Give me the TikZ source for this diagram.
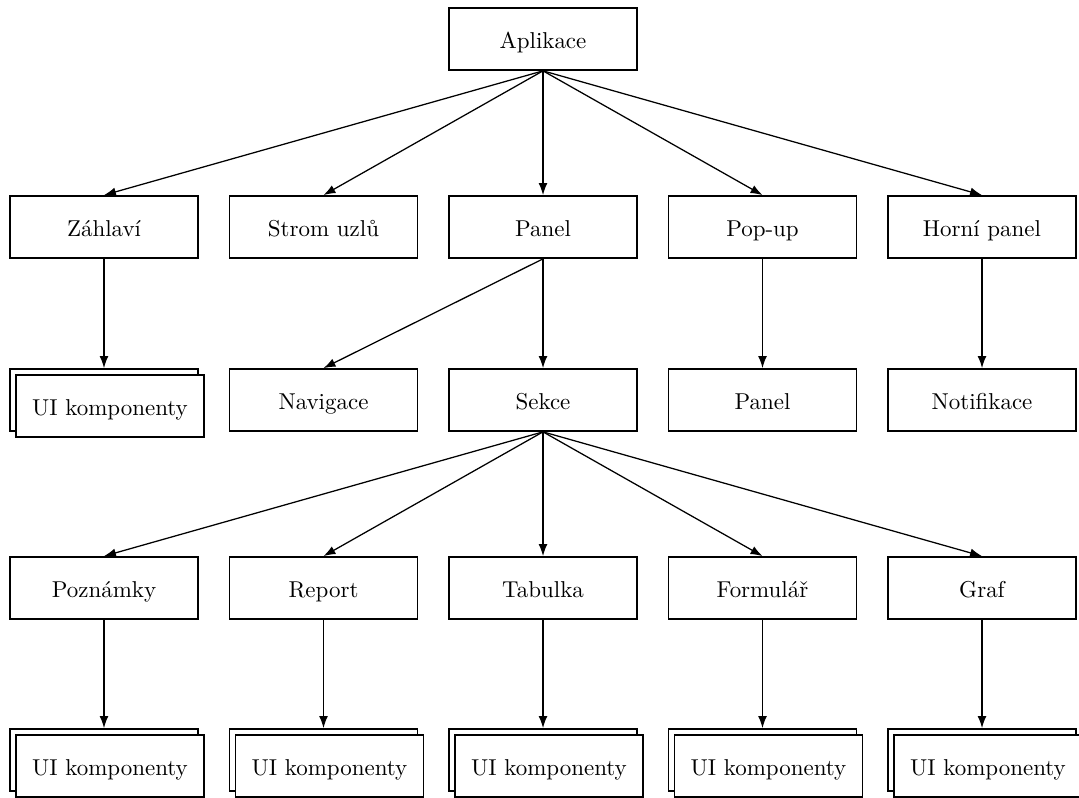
\documentclass[tikz,border=0pt]{standalone}
\usetikzlibrary{arrows.meta}
\begin{document}
\begin{tikzpicture}[x=0.4356pt,y=-0.4356pt,
  box/.style={draw,line width=0.75pt,fill=white,inner sep=0pt,
    text height=8.2pt,text depth=0pt,
    minimum width=188*0.4356pt,minimum height=62*0.4356pt},
  link/.style={line width=0.55pt,-{Latex[length=5.2pt,width=3.8pt]}}]
\useasboundingbox (0,0) rectangle (1079,798);
% top level
\node[box] (app) at (543,39) {Aplikace};
% second level
\node[box] (hdr)  at (104,227)   {Záhlaví};
\node[box] (tree) at (323.5,227) {Strom uzlů};
\node[box] (pan)  at (543,227)   {Panel};
\node[box] (pop)  at (762.5,227) {Pop-up};
\node[box] (top)  at (982,227)   {Horní panel};
% third level
\node[box] (hdrUIb) at (104,400) {};
\node[box] (hdrUI)  at (110,406) {UI komponenty};
\node[box] (nav)  at (323.5,400) {Navigace};
\node[box] (sec)  at (543,400)   {Sekce};
\node[box] (popP) at (762.5,400) {Panel};
\node[box] (ntf)  at (982,400)   {Notifikace};
% section children
\node[box] (s1) at (104,588)   {Poznámky};
\node[box] (s2) at (323.5,588) {Report};
\node[box] (s3) at (543,588)   {Tabulka};
\node[box] (s4) at (762.5,588) {Formulář};
\node[box] (s5) at (982,588)   {Graf};
% stacked component boxes
\foreach \i/\x in {1/104,2/323.5,3/543,4/762.5,5/982}{
  \node[box] (u\i b) at (\x,760) {};
  \node[box] (u\i) at (\x+6,766) {UI komponenty};
}
% connectors
\foreach \t in {hdr,tree,pan,pop,top} \draw[link] (app.south) -- (\t.north);
\draw[link] (hdr.south) -- (hdrUIb.north);
\draw[link] (pan.south) -- (nav.north);
\draw[link] (pan.south) -- (sec.north);
\draw[link] (pop.south) -- (popP.north);
\draw[link] (top.south) -- (ntf.north);
\foreach \t in {s1,s2,s3,s4,s5} \draw[link] (sec.south) -- (\t.north);
\foreach \i in {1,...,5} \draw[link] (s\i.south) -- (u\i b.north);
\end{tikzpicture}
\end{document}
